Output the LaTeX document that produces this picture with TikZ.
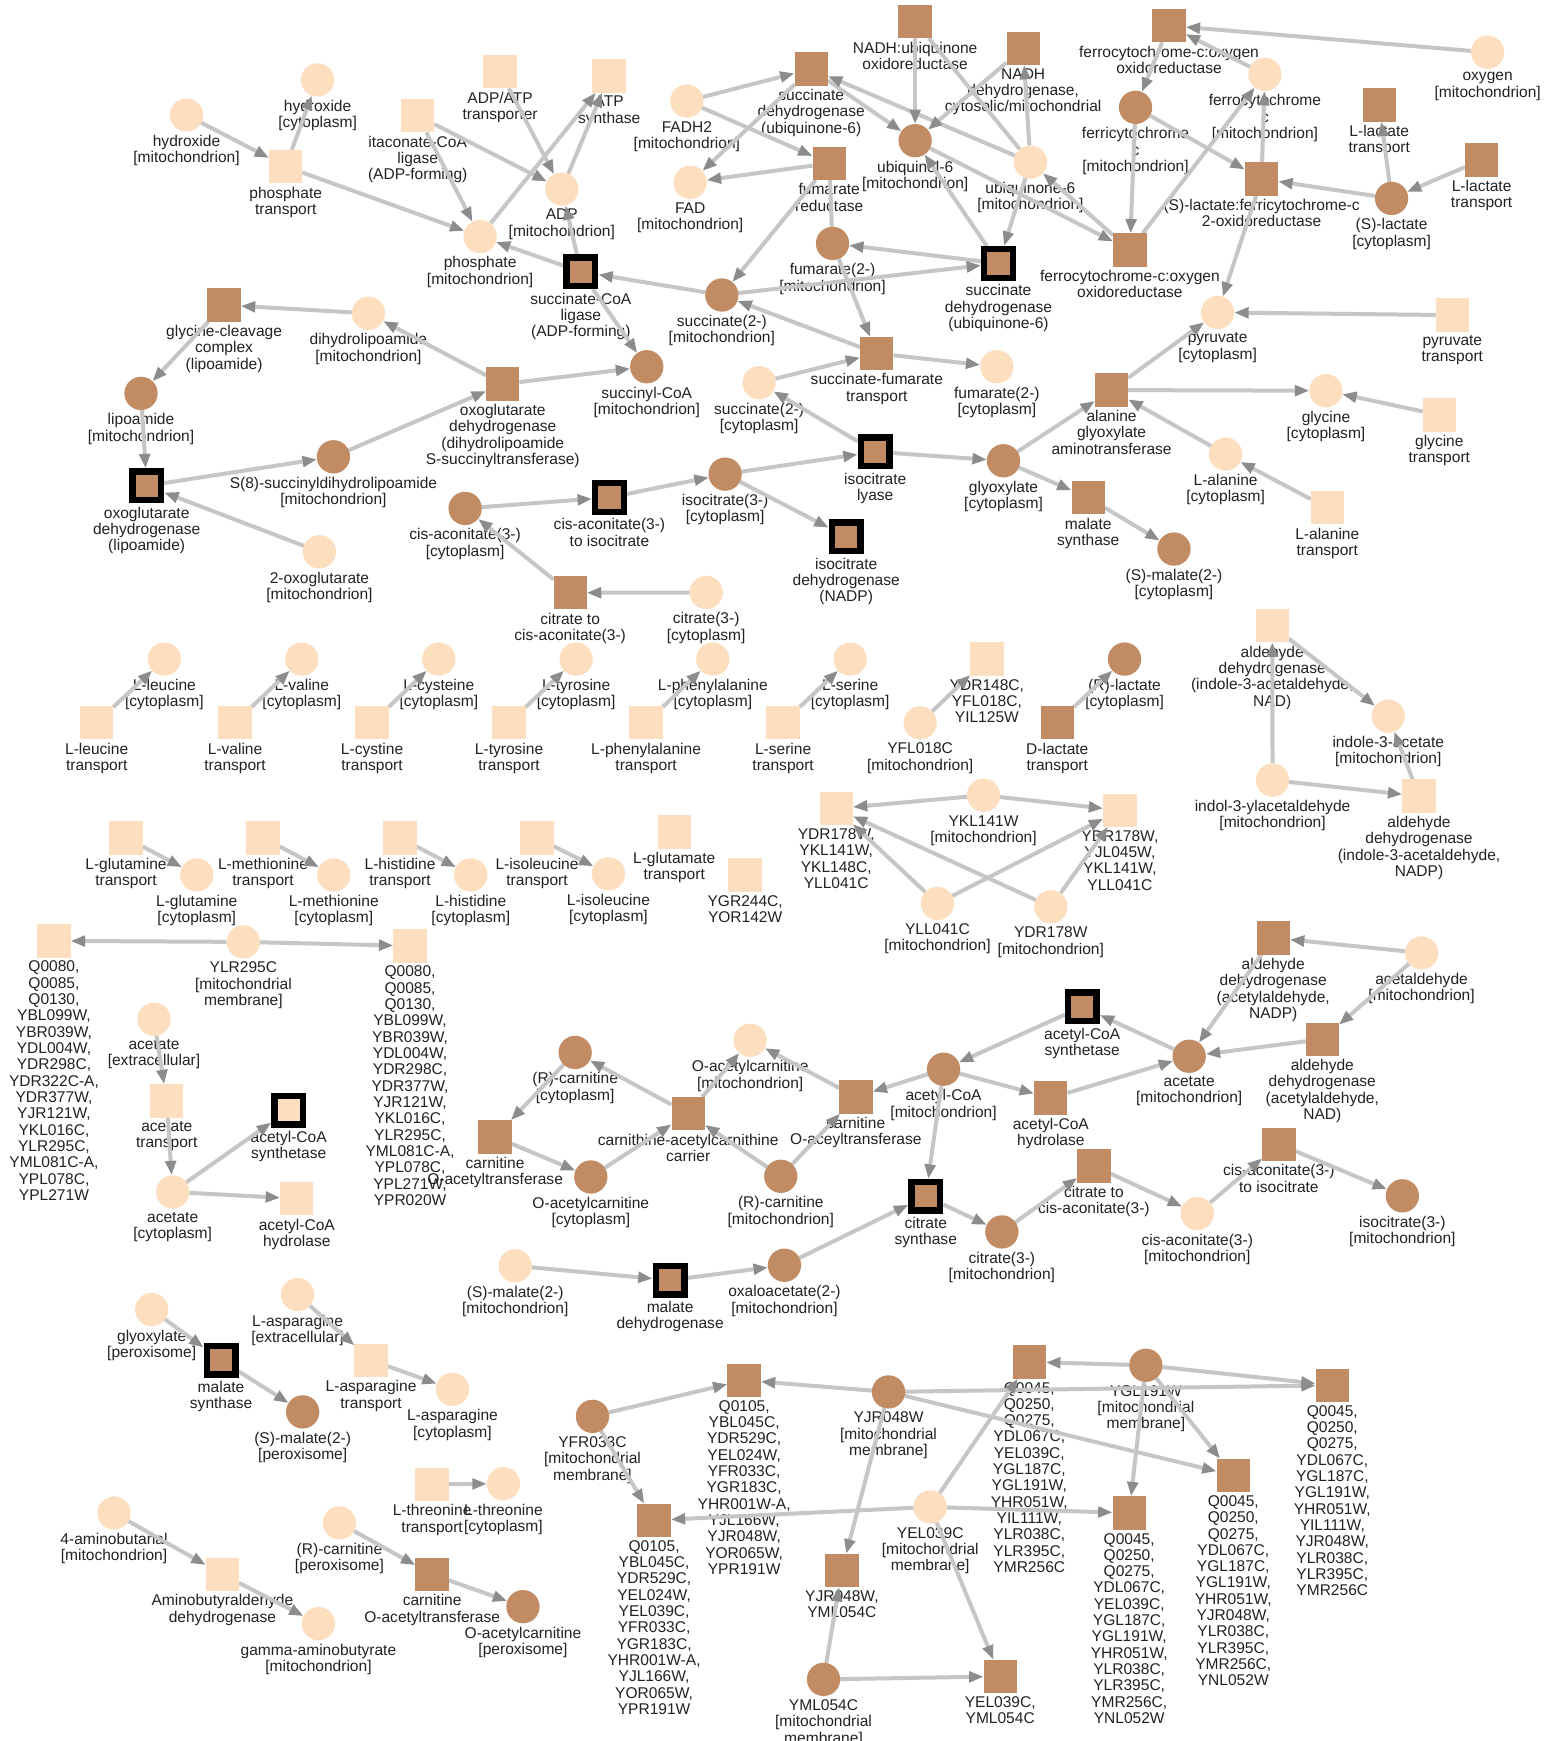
\documentclass[tikz,border=0pt]{standalone}
\usepackage{fontspec}
\setmainfont{Liberation Sans}
\usetikzlibrary{arrows.meta}
\pgfdeclarelayer{bg}
\pgfdeclarelayer{labels}
\pgfdeclarelayer{edges}
\pgfsetlayers{bg,labels,edges,main}
\definecolor{lt}{HTML}{FDDFC0}
\definecolor{br}{HTML}{C18C64}
\definecolor{edg}{HTML}{C6C6C6}
\definecolor{arr}{HTML}{8C8C8C}
\definecolor{txt}{HTML}{222222}
\newcommand{\labfont}{\fontsize{14}{14.7}\selectfont}
\tikzset{
  base/.style={inner sep=0pt, outer sep=0pt, minimum size=30pt, draw=none},
  lc/.style={base, circle, fill=lt},
  bc/.style={base, circle, fill=br},
  ls/.style={base, rectangle, fill=lt},
  bs/.style={base, rectangle, fill=br},
  bsk/.style={rectangle, inner sep=0pt, outer sep=2.85pt, minimum size=25.8pt, draw=black, line width=5.7pt, fill=br},
  lsk/.style={bsk, fill=lt},
  lab/.style={anchor=north, align=center, inner sep=0pt, font=\labfont, text=txt},
  edge/.style={draw=edg, line width=3.6pt, -{Triangle[length=13pt,width=9.5pt,color=arr]}},
  plain/.style={draw=edg, line width=3.6pt}
}
% node with its caption underneath
\newcommand{\nd}[5]{\node[#4] (#1) at (#2,#3) {};
  \begin{pgfonlayer}{labels}\node[lab] at ([yshift=-3pt]#1.south) {#5};\end{pgfonlayer}}
\begin{document}
\begin{tikzpicture}[x=1pt,y=-1pt]
\begin{pgfonlayer}{bg}
\fill[white] (0,0) rectangle (1390,1568);
\end{pgfonlayer}
\useasboundingbox (0,0) rectangle (1390,1568);
% ---- respiration / TCA cluster
\nd{hydM}{168}{103.6}{lc}{hydroxide\\{[}mitochondrion]}
\nd{hydC}{286}{72}{lc}{hydroxide\\{[}cytoplasm]}
\nd{phT}{257.3}{150}{ls}{phosphate\\transport}
\nd{itaL}{376.2}{104.2}{ls}{itaconate-CoA\\ligase\\(ADP-forming)}
\nd{adpT}{450.4}{64.5}{ls}{ADP/ATP\\transporter}
\nd{atpS}{548.6}{68.5}{ls}{ATP\\synthase}
\nd{adp}{506}{170.3}{lc}{ADP\\{[}mitochondrion]}
\nd{phM}{432.4}{213}{lc}{phosphate\\{[}mitochondrion]}
\nd{scl}{523.1}{244.7}{bsk}{succinate-CoA\\ligase\\(ADP-forming)}
\nd{fadh2}{618.6}{91}{lc}{FADH2\\{[}mitochondrion]}
\nd{fad}{621.6}{164.2}{lc}{FAD\\{[}mitochondrion]}
\nd{sdhT}{730.6}{62.2}{bs}{succinate\\dehydrogenase\\(ubiquinone-6)}
\nd{fr}{746.8}{147.1}{bs}{fumarate\\reductase}
\nd{nuo}{824.2}{19.5}{bs}{NADH:ubiquinone\\oxidoreductase}
\nd{ndh}{921.5}{43.5}{bs}{NADH\\dehydrogenase,\\cytosolic/mitochondrial}
\nd{uqol}{824.2}{126.7}{bc}{ubiquinol-6\\{[}mitochondrion]}
\nd{uq}{928}{146}{lc}{ubiquinone-6\\{[}mitochondrion]}
\nd{fcoT}{1052.8}{23.1}{bs}{ferrocytochrome-c:oxygen\\oxidoreductase}
\nd{fcyt}{1139.2}{67}{lc}{ferrocytochrome\\c\\{[}mitochondrion]}
\nd{oxy}{1339.8}{47.1}{lc}{oxygen\\{[}mitochondrion]}
\nd{fricyt}{1022.7}{96.7}{bc}{ferricytochrome\\c\\{[}mitochondrion]}
\nd{llt1}{1242.2}{94.6}{bs}{L-lactate\\transport}
\nd{llt2}{1334.4}{144.1}{bs}{L-lactate\\transport}
\nd{slfc}{1136.2}{161.2}{bs}{(S)-lactate:ferricytochrome-c\\2-oxidoreductase}
\nd{slac}{1253.3}{178.7}{bc}{(S)-lactate\\{[}cytoplasm]}
\nd{fcoL}{1017.6}{225.2}{bs}{ferrocytochrome-c:oxygen\\oxidoreductase}
\nd{fumM}{749.8}{219.2}{bc}{fumarate(2-)\\{[}mitochondrion]}
\nd{sdhB}{899.3}{237.2}{bsk}{succinate\\dehydrogenase\\(ubiquinone-6)}
\nd{sucM}{650.1}{265.7}{bc}{succinate(2-)\\{[}mitochondrion]}
\nd{pyr}{1096.6}{281.4}{lc}{pyruvate\\{[}cytoplasm]}
\nd{pyrT}{1308}{283.8}{ls}{pyruvate\\transport}
\nd{gcv}{201.8}{274.7}{bs}{glycine-cleavage\\complex\\(lipoamide)}
\nd{dhl}{331.8}{282.2}{lc}{dihydrolipoamide\\{[}mitochondrion]}
\nd{lip}{127}{354.3}{bc}{lipoamide\\{[}mitochondrion]}
\nd{ogdS}{452.8}{345.9}{bs}{oxoglutarate\\dehydrogenase\\(dihydrolipoamide\\S-succinyltransferase)}
\nd{sucoa}{582.5}{330.3}{bc}{succinyl-CoA\\{[}mitochondrion]}
\nd{sft}{789.7}{318.3}{bs}{succinate-fumarate\\transport}
\nd{sucC}{683.7}{344.7}{lc}{succinate(2-)\\{[}cytoplasm]}
\nd{fumC}{897.8}{330.3}{lc}{fumarate(2-)\\{[}cytoplasm]}
\nd{aga}{1001.1}{351.3}{bs}{alanine\\glyoxylate\\aminotransferase}
\nd{glyC}{1194.2}{351.9}{lc}{glycine\\{[}cytoplasm]}
\nd{glyT}{1296.3}{373.8}{ls}{glycine\\transport}
\nd{ogdL}{132.1}{437.5}{bsk}{oxoglutarate\\dehydrogenase\\(lipoamide)}
\nd{s8}{300.3}{411.4}{bc}{S(8)-succinyldihydrolipoamide\\{[}mitochondrion]}
\nd{icl}{788.2}{406.9}{bsk}{isocitrate\\lyase}
\nd{glx}{903.8}{415}{bc}{glyoxylate\\{[}cytoplasm]}
\nd{alaC}{1103.8}{409}{lc}{L-alanine\\{[}cytoplasm]}
\nd{alaT}{1195.4}{457.3}{ls}{L-alanine\\transport}
\nd{msC}{980.1}{448.3}{bs}{malate\\synthase}
\nd{malC}{1057.3}{494.5}{bc}{(S)-malate(2-)\\{[}cytoplasm]}
\nd{caiC}{548.9}{448}{bsk}{cis-aconitate(3-)\\to isocitrate}
\nd{iscC}{653.1}{427}{bc}{isocitrate(3-)\\{[}cytoplasm]}
\nd{idh}{762.1}{483.4}{bsk}{isocitrate\\dehydrogenase\\(NADP)}
\nd{cacC}{418.9}{457.9}{bc}{cis-aconitate(3-)\\{[}cytoplasm]}
\nd{oxg}{287.7}{497}{lc}{2-oxoglutarate\\{[}mitochondrion]}
\nd{ccaC}{513.5}{533.9}{bs}{citrate to\\cis-aconitate(3-)}
\nd{citC}{636}{533.6}{lc}{citrate(3-)\\{[}cytoplasm]}
% ---- transporters row
\nd{leuC}{148}{593.6}{lc}{L-leucine\\{[}cytoplasm]}
\nd{leuT}{87.1}{651}{ls}{L-leucine\\transport}
\nd{valC}{271.8}{593.6}{lc}{L-valine\\{[}cytoplasm]}
\nd{valT}{211.7}{651}{ls}{L-valine\\transport}
\nd{cysC}{395.2}{593.6}{lc}{L-cysteine\\{[}cytoplasm]}
\nd{cysT}{335.1}{651}{ls}{L-cystine\\transport}
\nd{tyrC}{518.9}{593.6}{lc}{L-tyrosine\\{[}cytoplasm]}
\nd{tyrT}{458.5}{651}{ls}{L-tyrosine\\transport}
\nd{pheC}{642}{593.6}{lc}{L-phenylalanine\\{[}cytoplasm]}
\nd{pheT}{581.9}{651}{ls}{L-phenylalanine\\transport}
\nd{serC}{765.7}{593.6}{lc}{L-serine\\{[}cytoplasm]}
\nd{serT}{705.3}{651}{ls}{L-serine\\transport}
\nd{ydrA}{888.8}{593.6}{ls}{YDR148C,\\YFL018C,\\YIL125W}
\nd{yfl}{828.7}{651}{lc}{YFL018C\\{[}mitochondrion]}
\nd{rlac}{1012.8}{593.6}{bc}{(R)-lactate\\{[}cytoplasm]}
\nd{dlacT}{952.2}{651}{bs}{D-lactate\\transport}
\nd{aldNAD}{1145.8}{563.6}{ls}{aldehyde\\dehydrogenase\\(indole-3-acetaldehyde,\\NAD)}
\nd{iaa}{1250.3}{645}{lc}{indole-3-acetate\\{[}mitochondrion]}
\nd{iald}{1146.1}{702.6}{lc}{indol-3-ylacetaldehyde\\{[}mitochondrion]}
\nd{aldNADP}{1278}{717}{ls}{aldehyde\\dehydrogenase\\(indole-3-acetaldehyde,\\NADP)}
\nd{sqA}{753.1}{728.2}{ls}{YDR178W,\\YKL141W,\\YKL148C,\\YLL041C}
\nd{ykl}{885.8}{716.2}{lc}{YKL141W\\{[}mitochondrion]}
\nd{sqB}{1008.6}{729.7}{ls}{YDR178W,\\YJL045W,\\YKL141W,\\YLL041C}
\nd{yll}{844.3}{813.7}{lc}{YLL041C\\{[}mitochondrion]}
\nd{ydrB}{946.4}{816.7}{lc}{YDR178W\\{[}mitochondrion]}
\nd{glnT}{113.5}{754.6}{ls}{L-glutamine\\transport}
\nd{glnC}{177.2}{788}{lc}{L-glutamine\\{[}cytoplasm]}
\nd{metT}{236.9}{754.6}{ls}{L-methionine\\transport}
\nd{metC}{300.6}{788}{lc}{L-methionine\\{[}cytoplasm]}
\nd{hisT}{360.3}{754.6}{ls}{L-histidine\\transport}
\nd{hisC}{424}{788}{lc}{L-histidine\\{[}cytoplasm]}
\nd{ileT}{483.7}{754.6}{ls}{L-isoleucine\\transport}
\nd{ileC}{548}{787}{lc}{L-isoleucine\\{[}cytoplasm]}
\nd{gluT}{607.2}{749.2}{ls}{L-glutamate\\transport}
\nd{ygr}{671.1}{788}{ls}{YGR244C,\\YOR142W}
% ---- ATP synthase complexes, acetate
\nd{qL}{48.6}{847.4}{ls}{Q0080,\\Q0085,\\Q0130,\\YBL099W,\\YBR039W,\\YDL004W,\\YDR298C,\\YDR322C-A,\\YDR377W,\\YJR121W,\\YKL016C,\\YLR295C,\\YML081C-A,\\YPL078C,\\YPL271W}
\nd{ylr}{219.2}{848.3}{lc}{YLR295C\\{[}mitochondrial\\membrane]}
\nd{qR}{369.3}{851.9}{ls}{Q0080,\\Q0085,\\Q0130,\\YBL099W,\\YBR039W,\\YDL004W,\\YDR298C,\\YDR377W,\\YJR121W,\\YKL016C,\\YLR295C,\\YML081C-A,\\YPL078C,\\YPL271W,\\YPR020W}
\nd{acE}{138.7}{917.9}{lc}{acetate\\{[}extracellular]}
\nd{acT}{150.2}{991.5}{ls}{acetate\\transport}
\nd{acC}{155.5}{1073.5}{lc}{acetate\\{[}cytoplasm]}
\nd{acsC}{260}{999.9}{lsk}{acetyl-CoA\\synthetase}
\nd{achC}{267.3}{1079.5}{ls}{acetyl-CoA\\hydrolase}
% ---- carnitine shuttle, mitochondrial TCA
\nd{rcarC}{518}{947.9}{bc}{(R)-carnitine\\{[}cytoplasm]}
\nd{catC}{445.9}{1023.9}{bs}{carnitine\\O-acetyltransferase}
\nd{oacC}{532.1}{1060}{bc}{O-acetylcarnitine\\{[}cytoplasm]}
\nd{carr}{619.8}{1002.9}{bs}{carnithine-acetylcarnithine\\carrier}
\nd{oacM}{675.6}{936.9}{lc}{O-acetylcarnitine\\{[}mitochondrion]}
\nd{rcarM}{703.2}{1059.4}{bc}{(R)-carnitine\\{[}mitochondrion]}
\nd{coat}{770.8}{987.9}{bs}{carnitine\\O-aceyltransferase}
\nd{accoa}{849.8}{963}{bc}{acetyl-CoA\\{[}mitochondrion]}
\nd{achM}{946.4}{988.8}{bs}{acetyl-CoA\\hydrolase}
\nd{acsM}{974.7}{906.8}{bsk}{acetyl-CoA\\synthetase}
\nd{acM}{1071}{951.3}{bc}{acetate\\{[}mitochondrion]}
\nd{aldP}{1146.7}{844.7}{bs}{aldehyde\\dehydrogenase\\(acetylaldehyde,\\NADP)}
\nd{acald}{1280.3}{858.2}{lc}{acetaldehyde\\{[}mitochondrion]}
\nd{aldD}{1190.9}{935.9}{bs}{aldehyde\\dehydrogenase\\(acetylaldehyde,\\NAD)}
\nd{csyn}{833.8}{1077.4}{bsk}{citrate\\synthase}
\nd{citM}{902.3}{1109.5}{bc}{citrate(3-)\\{[}mitochondrion]}
\nd{ccaM}{985.2}{1050.1}{bs}{citrate to\\cis-aconitate(3-)}
\nd{cacM}{1078.3}{1093}{lc}{cis-aconitate(3-)\\{[}mitochondrion]}
\nd{caiM}{1151.8}{1030.5}{bs}{cis-aconitate(3-)\\to isocitrate}
\nd{iscM}{1263}{1077}{bc}{isocitrate(3-)\\{[}mitochondrion]}
\nd{malM}{464}{1140}{lc}{(S)-malate(2-)\\{[}mitochondrion]}
\nd{mdh}{603.5}{1153}{bsk}{malate\\dehydrogenase}
\nd{oaa}{706.5}{1139.5}{bc}{oxaloacetate(2-)\\{[}mitochondrion]}
% ---- peroxisome and misc
\nd{glxP}{136.6}{1179.4}{lc}{glyoxylate\\{[}peroxisome]}
\nd{msP}{199.1}{1225.1}{bsk}{malate\\synthase}
\nd{malP}{272.6}{1271.6}{bc}{(S)-malate(2-)\\{[}peroxisome]}
\nd{asnE}{268}{1166}{lc}{L-asparagine\\{[}extracellular]}
\nd{asnT}{334.2}{1225.1}{ls}{L-asparagine\\transport}
\nd{asnC}{407.5}{1251.2}{lc}{L-asparagine\\{[}cytoplasm]}
\nd{thrT}{389.2}{1336.8}{ls}{L-threonine\\transport}
\nd{thrC}{453.4}{1336.2}{lc}{L-threonine\\{[}cytoplasm]}
\nd{gabal}{102.7}{1362.6}{lc}{4-aminobutanal\\{[}mitochondrion]}
\nd{abdh}{200.3}{1417.9}{ls}{Aminobutyraldehyde\\dehydrogenase}
\nd{gaba}{286.8}{1462.3}{lc}{gamma-aminobutyrate\\{[}mitochondrion]}
\nd{rcarP}{305.7}{1371.6}{lc}{(R)-carnitine\\{[}peroxisome]}
\nd{catP}{389.2}{1417.9}{bs}{carnitine\\O-acetyltransferase}
\nd{oacP}{471}{1447}{bc}{O-acetylcarnitine\\{[}peroxisome]}
% ---- respiratory complexes
\nd{yfr}{533.6}{1275.6}{bc}{YFR033C\\{[}mitochondrial\\membrane]}
\nd{qaT}{670.2}{1243.1}{bs}{Q0105,\\YBL045C,\\YDR529C,\\YEL024W,\\YFR033C,\\YGR183C,\\YHR001W-A,\\YJL166W,\\YJR048W,\\YOR065W,\\YPR191W}
\nd{yjr}{800.2}{1253.6}{bc}{YJR048W\\{[}mitochondrial\\membrane]}
\nd{qaL}{589.1}{1369.2}{bs}{Q0105,\\YBL045C,\\YDR529C,\\YEL024W,\\YEL039C,\\YFR033C,\\YGR183C,\\YHR001W-A,\\YJL166W,\\YOR065W,\\YPR191W}
\nd{yel}{837.8}{1357.2}{lc}{YEL039C\\{[}mitochondrial\\membrane]}
\nd{sqJM}{758.2}{1414.3}{bs}{YJR048W,\\YML054C}
\nd{yml}{741.7}{1512.5}{bc}{YML054C\\{[}mitochondrial\\membrane]}
\nd{sqEM}{900.8}{1509.8}{bs}{YEL039C,\\YML054C}
\nd{qbA}{927}{1226.6}{bs}{Q0045,\\Q0250,\\Q0275,\\YDL067C,\\YEL039C,\\YGL187C,\\YGL191W,\\YHR051W,\\YIL111W,\\YLR038C,\\YLR395C,\\YMR256C}
\nd{ygl}{1032}{1229.6}{bc}{YGL191W\\{[}mitochondrial\\membrane]}
\nd{qbB}{1199.9}{1247.6}{bs}{Q0045,\\Q0250,\\Q0275,\\YDL067C,\\YGL187C,\\YGL191W,\\YHR051W,\\YIL111W,\\YJR048W,\\YLR038C,\\YLR395C,\\YMR256C}
\nd{qbC}{1110.7}{1328.7}{bs}{Q0045,\\Q0250,\\Q0275,\\YDL067C,\\YGL187C,\\YGL191W,\\YHR051W,\\YJR048W,\\YLR038C,\\YLR395C,\\YMR256C,\\YNL052W}
\nd{qbD}{1017}{1362.6}{bs}{Q0045,\\Q0250,\\Q0275,\\YDL067C,\\YEL039C,\\YGL187C,\\YGL191W,\\YHR051W,\\YLR038C,\\YLR395C,\\YMR256C,\\YNL052W}
% ---- connectors
\begin{pgfonlayer}{edges}
\foreach \a/\b in {hydM/phT, phT/hydC, phT/phM, itaL/phM, itaL/adp, adpT/adp, adp/atpS, phM/atpS,
  scl/adp, scl/phM, sucM/scl, scl/sucoa, fadh2/sdhT, fadh2/fr, sdhT/fad, fr/fad, sdhT/uqol, uq/sdhT,
  fr/sucM, nuo/uqol, ndh/uqol, uq/ndh, sdhB/uqol, uq/sdhB, sdhB/fumM, sucM/sdhB, fumM/sft, sft/sucM,
  sucC/sft, sft/fumC, icl/sucC, uqol/fcoL, fcoL/uq, fcoT/fricyt, fcyt/fcoT, oxy/fcoT, fricyt/slfc,
  slfc/fcyt, slac/slfc, slfc/pyr, fricyt/fcoL, fcoL/fcyt, slac/llt1, llt2/slac, pyrT/pyr, aga/pyr,
  aga/glyC, glyT/glyC, alaC/aga, alaT/alaC, glx/aga, icl/glx, glx/msC, msC/malC,
  dhl/gcv, gcv/lip, ogdS/dhl, s8/ogdS, ogdS/sucoa, lip/ogdL, ogdL/s8, oxg/ogdL,
  cacC/caiC, caiC/iscC, iscC/icl, iscC/idh, citC/ccaC, ccaC/cacC,
  leuT/leuC, valT/valC, cysT/cysC, tyrT/tyrC, pheT/pheC, serT/serC, yfl/ydrA, dlacT/rlac,
  iald/aldNAD, aldNAD/iaa, iald/aldNADP, aldNADP/iaa,
  ykl/sqA, ykl/sqB, yll/sqA, yll/sqB, ydrB/sqA, ydrB/sqB,
  glnT/glnC, metT/metC, hisT/hisC, ileT/ileC, ylr/qL, ylr/qR,
  acE/acT, acT/acC, acC/acsC, acC/achC,
  rcarC/catC, catC/oacC, oacC/carr, carr/rcarC, carr/oacM, rcarM/carr, coat/oacM, rcarM/coat,
  accoa/coat, acsM/accoa, accoa/achM, accoa/csyn, achM/acM, acM/acsM, aldP/acM, acald/aldP,
  acald/aldD, aldD/acM, csyn/citM, citM/ccaM, ccaM/cacM, cacM/caiM, caiM/iscM, malM/mdh,
  mdh/oaa, oaa/csyn,
  glxP/msP, msP/malP, asnE/asnT, asnT/asnC, thrT/thrC, gabal/abdh, abdh/gaba, rcarP/catP, catP/oacP,
  yfr/qaT, yfr/qaL, yjr/qaT, yjr/sqJM, yjr/qbB, yjr/qbC, yel/qaL, yel/qbA, yel/qbD, yel/sqEM,
  yml/sqJM, yml/sqEM, ygl/qbA, ygl/qbB, ygl/qbC, ygl/qbD}
  \draw[edge] (\a) -- (\b);
\foreach \a/\b in {uq/nuo, fumM/fr}
  \draw[plain] (\a) -- (\b);
\end{pgfonlayer}
\end{tikzpicture}
\end{document}
